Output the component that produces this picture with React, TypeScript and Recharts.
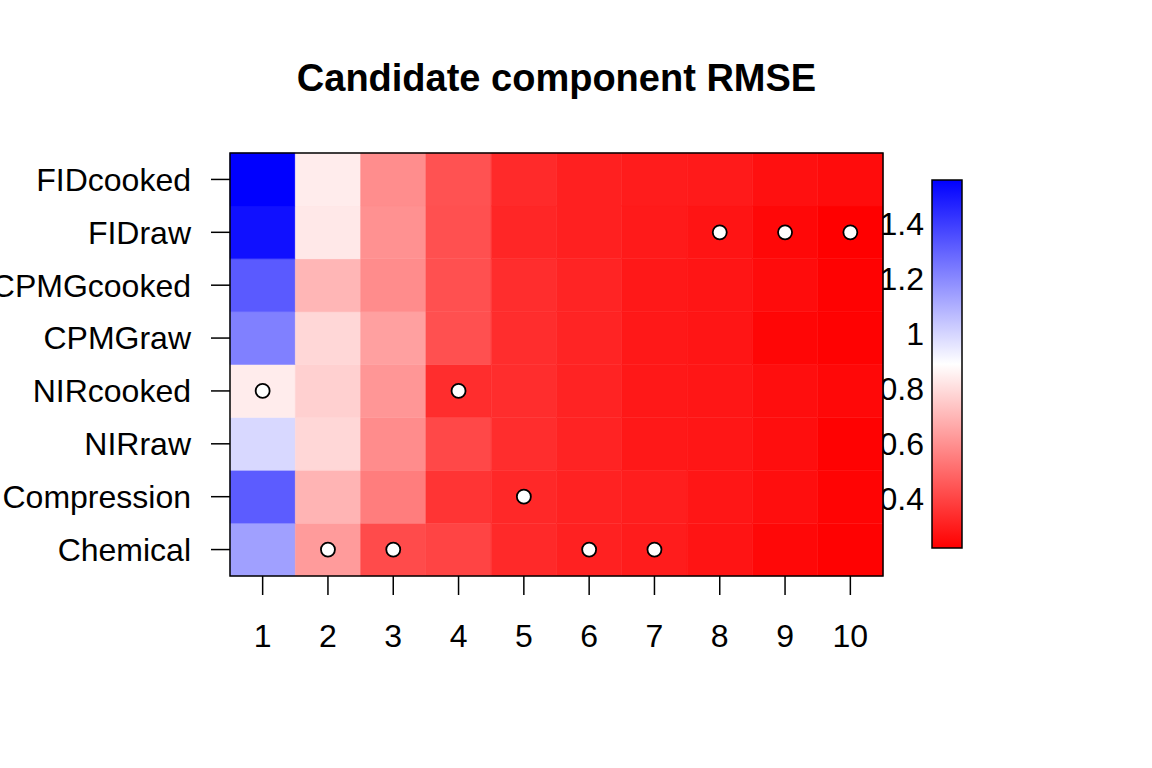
import React from 'react';
import { ScatterChart, Scatter, XAxis, YAxis, ReferenceArea, Customized } from 'recharts';

// rows bottom -> top, as on the y axis
const ROWS = ['Chemical', 'Compression', 'NIRraw', 'NIRcooked', 'CPMGraw', 'CPMGcooked', 'FIDraw', 'FIDcooked'];
const COMPONENTS = [1, 2, 3, 4, 5, 6, 7, 8, 9, 10];

const CHEMICAL = [1.14, 0.627, 0.417, 0.399, 0.327, 0.307, 0.293, 0.273, 0.241, 0.225];
const COMPRESSION = [1.318, 0.693, 0.548, 0.357, 0.325, 0.309, 0.299, 0.278, 0.257, 0.23];
const NIR_RAW = [0.993, 0.785, 0.588, 0.409, 0.338, 0.312, 0.283, 0.278, 0.257, 0.225];
const NIR_COOKED = [0.84, 0.766, 0.614, 0.338, 0.338, 0.312, 0.283, 0.278, 0.257, 0.241];
const CPMG_RAW = [1.224, 0.785, 0.64, 0.43, 0.338, 0.315, 0.283, 0.276, 0.236, 0.224];
const CPMG_COOKED = [1.324, 0.698, 0.588, 0.43, 0.338, 0.315, 0.283, 0.276, 0.252, 0.224];
const FID_RAW = [1.518, 0.83, 0.601, 0.43, 0.32, 0.304, 0.288, 0.273, 0.241, 0.22];
const FID_COOKED = [1.56, 0.84, 0.59, 0.435, 0.33, 0.304, 0.294, 0.288, 0.262, 0.252];

const RMSE = [CHEMICAL, COMPRESSION, NIR_RAW, NIR_COOKED, CPMG_RAW, CPMG_COOKED, FID_RAW, FID_COOKED];

// chosen block for each component
const SELECTED = ['NIRcooked', 'Chemical', 'Chemical', 'NIRcooked', 'Compression', 'Chemical', 'Chemical', 'FIDraw', 'FIDraw', 'FIDraw'];

const LEGEND_TICKS = [0.4, 0.6, 0.8, 1, 1.2, 1.4];

const FONT = '"Liberation Sans", Arial, Helvetica, sans-serif';

const allValues = RMSE.flat();
const VMIN = Math.min(...allValues);
const VMAX = Math.max(...allValues);

// red -> white -> blue
function colorFor(v: number) {
  const t = (v - VMIN) / (VMAX - VMIN);
  if (t <= 0.5) {
    const g = Math.round(255 * 2 * t);
    return `rgb(255,${g},${g})`;
  }
  const r = Math.round(255 * (2 - 2 * t));
  return `rgb(${r},${r},255)`;
}

const cells = RMSE.flatMap((row, ri) =>
  row.map((v, ci) => ({ x: COMPONENTS[ci], y: ri + 1, v }))
);

const markers = SELECTED.map((name, i) => ({ x: COMPONENTS[i], y: ROWS.indexOf(name) + 1 }));

// colour bar placement
const BAR = { x: 932, y: 180, w: 30, h: 368 };

function ColorBar() {
  const yOf = (v: number) => BAR.y + BAR.h - ((v - VMIN) / (VMAX - VMIN)) * BAR.h;
  return (
    <g>
      <defs>
        <linearGradient id="rmseGrad" x1="0" y1="0" x2="0" y2="1">
          <stop offset="0%" stopColor="rgb(0,0,255)" />
          <stop offset="50%" stopColor="rgb(255,255,255)" />
          <stop offset="100%" stopColor="rgb(255,0,0)" />
        </linearGradient>
      </defs>
      <rect x={BAR.x} y={BAR.y} width={BAR.w} height={BAR.h} fill="url(#rmseGrad)" stroke="#000" strokeWidth={1.5} />
      {LEGEND_TICKS.map((t) => (
        <text
          key={t}
          x={924}
          y={yOf(t)}
          dy="0.35em"
          textAnchor="end"
          fontSize={32}
          fontFamily={FONT}
          fill="#000"
        >
          {String(t)}
        </text>
      ))}
      <text
        x={556.5}
        y={78}
        dy="0.35em"
        textAnchor="middle"
        fontSize={38}
        fontWeight="bold"
        fontFamily={FONT}
        fill="#000"
      >
        Candidate component RMSE
      </text>
    </g>
  );
}

const Dot = (props: any) => {
  const { cx, cy } = props;
  if (cx == null || cy == null) return null;
  return <circle cx={cx} cy={cy} r={7} fill="#fff" stroke="#000" strokeWidth={1.8} />;
};

export default function App() {
  return (
    <div style={{ position: 'absolute', left: 0, top: 0, width: 1152, height: 768, background: '#fff' }}>
      <ScatterChart
        width={1152}
        height={768}
        margin={{ top: 153, right: 269, bottom: 0, left: 0 }}
        style={{ fontFamily: FONT }}
      >
        <XAxis
          type="number"
          dataKey="x"
          domain={[0.5, 10.5]}
          ticks={COMPONENTS}
          interval={0}
          height={192}
          axisLine={false}
          tickSize={19}
          tickMargin={29}
          tickLine={{ stroke: '#000', strokeWidth: 1.5 }}
          tick={{ fontSize: 32, fill: '#000', fontFamily: FONT }}
          allowDataOverflow
        />
        <YAxis
          type="number"
          dataKey="y"
          domain={[0.5, 8.5]}
          ticks={ROWS.map((_, i) => i + 1)}
          tickFormatter={(v: number) => ROWS[v - 1] ?? ''}
          interval={0}
          width={230}
          axisLine={false}
          tickSize={19}
          tickMargin={20}
          tickLine={{ stroke: '#000', strokeWidth: 1.5 }}
          tick={{ fontSize: 32, fill: '#000', fontFamily: FONT }}
          allowDataOverflow
        />
        <Customized component={ColorBar} />
        {cells.map((c) => (
          <ReferenceArea
            key={`${c.x}-${c.y}`}
            x1={c.x - 0.5}
            x2={c.x + 0.5}
            y1={c.y - 0.5}
            y2={c.y + 0.5}
            fill={colorFor(c.v)}
            fillOpacity={1}
            stroke={colorFor(c.v)}
            strokeWidth={0.5}
            ifOverflow="visible"
          />
        ))}
        <ReferenceArea
          x1={0.5}
          x2={10.5}
          y1={0.5}
          y2={8.5}
          fill="none"
          stroke="#000"
          strokeWidth={1.5}
          ifOverflow="visible"
        />
        <Scatter data={markers} shape={<Dot />} isAnimationActive={false} />
      </ScatterChart>
    </div>
  );
}
